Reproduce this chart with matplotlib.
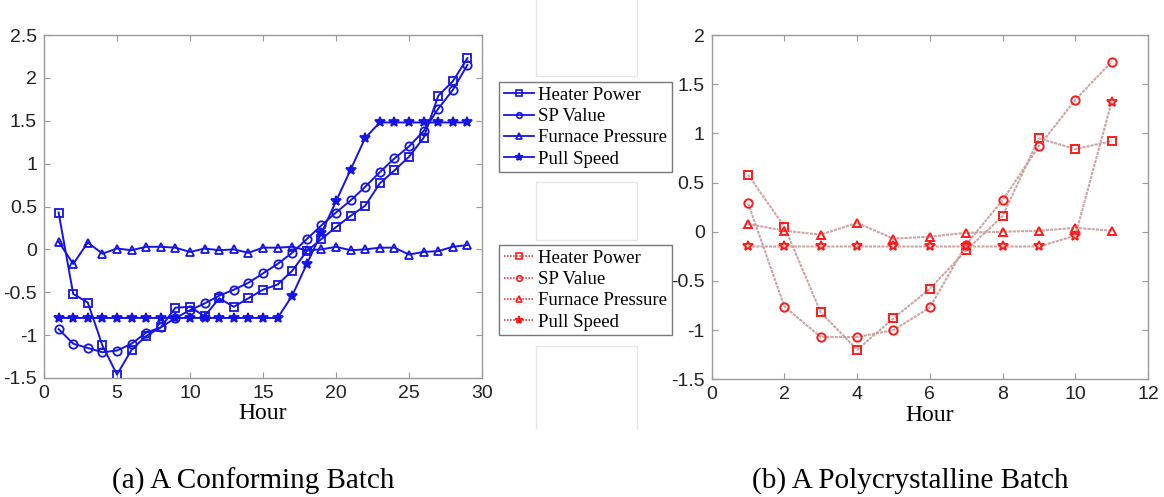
import matplotlib
matplotlib.use("Agg")
import matplotlib.pyplot as plt
from matplotlib.lines import Line2D
from matplotlib.patches import Rectangle
from matplotlib.ticker import FuncFormatter

# ---------------- data ----------------
series_names = ["Heater Power", "SP Value", "Furnace Pressure", "Pull Speed"]
markers = ["s", "o", "^", "*"]

hours_a = list(range(1, 30))
heater_a = [0.43, -0.52, -0.62, -1.12, -1.46, -1.17, -1.01, -0.91, -0.68, -0.67,
            -0.78, -0.57, -0.67, -0.57, -0.47, -0.41, -0.25, -0.02, 0.12, 0.26,
            0.39, 0.51, 0.77, 0.92, 1.08, 1.30, 1.79, 1.96, 2.23]
sp_a = [-0.93, -1.10, -1.15, -1.20, -1.18, -1.10, -0.97, -0.91, -0.80, -0.71,
        -0.63, -0.54, -0.47, -0.39, -0.28, -0.17, -0.04, 0.12, 0.28, 0.43,
        0.57, 0.73, 0.90, 1.06, 1.20, 1.38, 1.64, 1.86, 2.15]
furnace_a = [0.09, -0.17, 0.08, -0.05, 0.01, -0.01, 0.03, 0.03, 0.02, -0.03,
             0.01, -0.01, 0.00, -0.04, 0.02, 0.02, 0.03, -0.01, 0.00, 0.03,
             -0.01, 0.00, 0.02, 0.02, -0.06, -0.03, -0.02, 0.03, 0.05]
pull_a = [-0.80, -0.80, -0.80, -0.80, -0.80, -0.80, -0.80, -0.80, -0.80, -0.80,
          -0.80, -0.80, -0.80, -0.80, -0.80, -0.80, -0.54, -0.17, 0.19, 0.56,
          0.93, 1.30, 1.48, 1.48, 1.48, 1.48, 1.48, 1.48, 1.48]

hours_b = list(range(1, 12))
heater_b = [0.58, 0.05, -0.82, -1.20, -0.88, -0.58, -0.19, 0.16, 0.95, 0.84, 0.92]
sp_b = [0.29, -0.76, -1.07, -1.07, -1.00, -0.77, -0.13, 0.32, 0.87, 1.34, 1.73]
furnace_b = [0.08, 0.01, -0.03, 0.09, -0.07, -0.05, -0.01, 0.00, 0.01, 0.04, 0.01]
pull_b = [-0.15, -0.15, -0.15, -0.15, -0.15, -0.15, -0.15, -0.15, -0.15, -0.04, 1.32]

yticks_a = [-1.5, -1, -0.5, 0, 0.5, 1, 1.5, 2, 2.5]
xticks_a = [0, 5, 10, 15, 20, 25, 30]
yticks_b = [-1.5, -1, -0.5, 0, 0.5, 1, 1.5, 2]
xticks_b = [0, 2, 4, 6, 8, 10, 12]

caption_a = "(a) A Conforming Batch"
caption_b = "(b) A Polycrystalline Batch"
xlabel = "Hour"

# ---------------- style ----------------
serif = ["Liberation Serif", "DejaVu Serif"]
sans = ["Liberation Sans", "DejaVu Sans"]
blue = "#1414e6"
red = "#ff1a1a"
rline = "#c99a9a"
spine_col = "#9a9a9a"

fig = plt.figure(figsize=(11.64, 4.97), dpi=100)
W, H = 1164, 497


def ax_rect(x0, y0, x1, y1):
    return [x0 / W, 1 - y1 / H, (x1 - x0) / W, (y1 - y0) / H]


def fmt(v, pos):
    return "%g" % v


def style_axes(ax):
    for sp in ax.spines.values():
        sp.set_color(spine_col)
        sp.set_linewidth(1.0)
    ax.tick_params(direction="in", top=True, right=True, length=4,
                   color=spine_col, labelsize=14, labelcolor="#222222", pad=5)
    for lab in ax.get_xticklabels() + ax.get_yticklabels():
        lab.set_family(sans)
    ax.yaxis.set_major_formatter(FuncFormatter(fmt))
    ax.xaxis.set_major_formatter(FuncFormatter(fmt))
    ax.set_xlabel(xlabel, family=serif, fontsize=17, labelpad=1)


# left axes
axa = fig.add_axes(ax_rect(44, 35, 482, 378))
data_a = [heater_a, sp_a, furnace_a, pull_a]
for vals, m in zip(data_a, markers):
    ms = 7 if m == "*" else 6
    axa.plot(hours_a, vals, color=blue, lw=1.4, marker=m, ms=ms,
             mfc="none" if m != "*" else blue, mec=blue, mew=1.3)
axa.set_xlim(0, 30)
axa.set_ylim(-1.5, 2.5)
axa.set_xticks(xticks_a)
axa.set_yticks(yticks_a)
style_axes(axa)

# right axes
axb = fig.add_axes(ax_rect(711.7, 35, 1148, 379.3))
data_b = [heater_b, sp_b, furnace_b, pull_b]
for vals, m in zip(data_b, markers):
    axb.plot(hours_b, vals, color=rline, lw=1.5, ls=(0, (1.5, 0.5)), alpha=0.9)
    ms = 7 if m == "*" else 6
    axb.plot(hours_b, vals, ls="none", marker=m, ms=ms, mfc="none",
             mec=red, mew=1.4)
axb.set_xlim(0, 12)
axb.set_ylim(-1.5, 2)
axb.set_xticks(xticks_b)
axb.set_yticks(yticks_b)
style_axes(axb)

# legends
handles_a = [Line2D([], [], color=blue, lw=1.3, marker=m,
                    ms=(6 if m == "*" else 4), mfc=("none" if m != "*" else blue),
                    mec=blue, mew=1.2) for m in markers]
handles_b = [Line2D([], [], color=red, lw=1.1, ls=(0, (1, 1)), marker=m,
                    ms=(6 if m == "*" else 4), mfc=("none" if m != "*" else red),
                    mec=red, mew=1.2) for m in markers]

leg_kw = dict(loc="upper left", prop={"family": serif, "size": 13.5},
              frameon=True, fancybox=False, framealpha=1, edgecolor="#777777",
              handlelength=1.6, handletextpad=0.25, labelspacing=0.22,
              borderpad=0.25, borderaxespad=0)
leg1 = fig.legend(handles_a, series_names,
                  bbox_to_anchor=(499 / W, 1 - 82 / H), **leg_kw)
leg1.get_frame().set_linewidth(1.0)
leg2 = fig.legend(handles_b, series_names,
                  bbox_to_anchor=(499 / W, 1 - 245 / H), **leg_kw)
leg2.get_frame().set_linewidth(1.0)

# faint empty boxes (artifacts of the original figure)
faint = "#e6e6e6"
fig.add_artist(Rectangle((536 / W, 1 - 240 / H), (637 - 536) / W, (240 - 182) / H,
                         transform=fig.transFigure, fill=False, ec=faint, lw=1))
for x in (536, 637):
    fig.add_artist(Line2D([x / W, x / W], [1, 1 - 76 / H], transform=fig.transFigure,
                          color=faint, lw=1))
    fig.add_artist(Line2D([x / W, x / W], [1 - 346 / H, 1 - 428 / H],
                          transform=fig.transFigure, color=faint, lw=1))
fig.add_artist(Line2D([536 / W, 637 / W], [1 - 76 / H, 1 - 76 / H],
                      transform=fig.transFigure, color=faint, lw=1))
fig.add_artist(Line2D([536 / W, 637 / W], [1 - 346 / H, 1 - 346 / H],
                      transform=fig.transFigure, color=faint, lw=1))

# captions
fig.text(253 / W, 1 - 481 / H, caption_a, ha="center", va="center",
         family=serif, fontsize=21)
fig.text(910 / W, 1 - 481 / H, caption_b, ha="center", va="center",
         family=serif, fontsize=21)

fig.savefig("out.png", dpi=100)
